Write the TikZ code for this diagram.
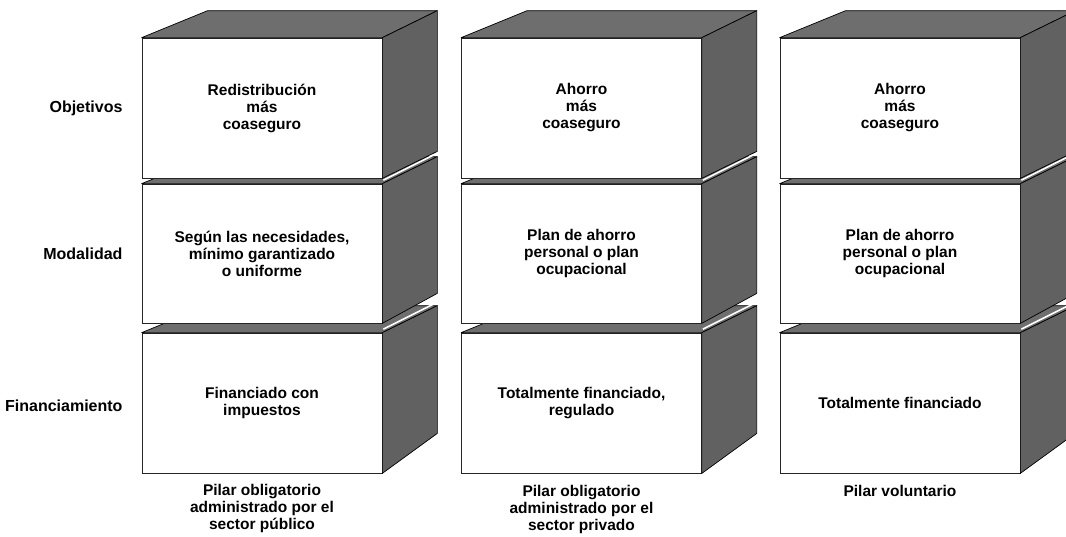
\documentclass[tikz,border=0pt]{standalone}
\usepackage{fontspec}
\setmainfont{Liberation Sans}
\usetikzlibrary{calc}
\definecolor{sidegray}{gray}{0.38}
\definecolor{topgray}{gray}{0.43}
\tikzset{
  boxfont/.style={font=\fontsize{15.5}{17}\selectfont\bfseries},
  front/.style={draw=black!85, line width=0.7pt, fill=white, minimum width=240pt,
    inner sep=0pt, align=center, boxfont},
  face/.style={draw=black, line width=0.7pt, line join=round},
  rowlabel/.style={anchor=east, font=\fontsize{16}{17}\selectfont\bfseries},
  caption/.style={anchor=north, align=center, boxfont},
  gapline/.style={white, line width=1.6pt}
}
% #1 name, #2 x, #3 y, #4 height, #5 side bottom rise, #6 text
\newcommand{\pilarbox}[6]{%
  \node[front, minimum height=#4pt] (#1) at (#2,#3) {#6};
  \path[face, fill=topgray] (#1.north west) -- ++(66,-27) -- ($(#1.north east)+(55,-27)$) -- (#1.north east) -- cycle;
  \path[face, fill=sidegray] (#1.north east) -- ++(55,-27) -- ($(#1.south east)+(55,#5)$) -- (#1.south east) -- cycle;
}
\newcommand{\gapmark}[1]{%
  \draw[gapline] ($(#1.north east)+(1,-3.5)$) -- ($(#1.north east)+(55,-30.5)$);
}
\begin{document}
\begin{tikzpicture}[x=1pt, y=-1pt]
\path[use as bounding box, clip] (0,0) rectangle (1066,536);
\fill[white] (0,0) rectangle (1066,536);

% column 1
\pilarbox{aF}{262}{403}{140}{-40}{Financiado con\\impuestos}
\gapmark{aF}
\pilarbox{aM}{262}{253.5}{139}{-30}{Según las necesidades,\\mínimo garantizado\\o uniforme}
\gapmark{aM}
\pilarbox{aO}{262}{108}{140}{-27}{Redistribución\\más\\coaseguro}

% column 2
\pilarbox{bF}{581.5}{403}{140}{-40}{Totalmente financiado,\\regulado}
\gapmark{bF}
\pilarbox{bM}{581.5}{253.5}{139}{-30}{Plan de ahorro\\personal o plan\\ocupacional}
\gapmark{bM}
\pilarbox{bO}{581.5}{108}{140}{-27}{Ahorro\\más\\coaseguro}

% column 3
\pilarbox{cF}{900}{403}{140}{-40}{Totalmente financiado}
\gapmark{cF}
\pilarbox{cM}{900}{253.5}{139}{-30}{Plan de ahorro\\personal o plan\\ocupacional}
\gapmark{cM}
\pilarbox{cO}{900}{108}{140}{-27}{Ahorro\\más\\coaseguro}

% row labels
\node[rowlabel] (lO) at (126,108) {Objetivos};
\node[rowlabel] (lM) at (126,254) {Modalidad};
\node[rowlabel] (lF) at (126,406) {Financiamiento};

% captions
\node[caption] (pA) at (262,481) {Pilar obligatorio\\administrado por el\\sector público};
\node[caption] (pB) at (581.5,482) {Pilar obligatorio\\administrado por el\\sector privado};
\node[caption] (pC) at (900,482) {Pilar voluntario};
\end{tikzpicture}
\end{document}
